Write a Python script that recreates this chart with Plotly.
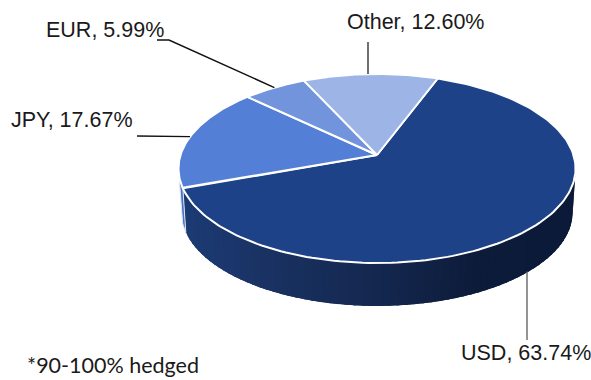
import numpy as np
import plotly.graph_objects as go

# Currency split of the portfolio
currencies = ["USD", "JPY", "EUR", "Other"]
shares = [63.74, 17.67, 5.99, 12.60]
slice_colors = ["#1E4288", "#5380D6", "#7194DC", "#9DB5E6"]
footnote = "*90-100% hedged"

# Tilted-disc projection (pixel space of the page)
CX, CY = 377.0, 155.0
RX, RY = 196.5, 92.6
PERSPECTIVE = 1 / 7
DEPTH = 44.5
BASE_SCALE = 0.985
FIRST_ANGLE = 20.5


def rim(angle_deg):
    """Project clockwise-from-top angles on to the top face of the disc."""
    a = np.radians(angle_deg)
    u, v = np.sin(a), np.cos(a)
    w = 1 / (1 + PERSPECTIVE * v)
    return CX + RX * u * w, CY - RY * v * w


def base(angle_deg):
    """Same angles on the lower, slightly smaller face of the disc."""
    x, y = rim(angle_deg)
    return CX + (x - CX) * BASE_SCALE, CY + (y - CY) * BASE_SCALE + DEPTH


def wall_colour(x):
    """Side-wall shading, darkening towards the right of the disc."""
    stops = [185, 280, 370, 470, 575]
    rgb = [np.interp(x, stops, c) for c in ([28, 24, 20, 13, 11], [58, 48, 39, 27, 26], [116, 94, 79, 58, 56])]
    return "rgb({:.0f},{:.0f},{:.0f})".format(*rgb)


fractions = np.array(shares) / sum(shares)
edges = FIRST_ANGLE + 360 * np.concatenate([[0], np.cumsum(fractions)])
mids = (edges[:-1] + edges[1:]) / 2

fig = go.Figure()


def poly(xs, ys, fill, line=None, width=0):
    fig.add_trace(go.Scatter(
        x=list(xs), y=list(ys), mode="lines", fill="toself", fillcolor=fill,
        line=dict(color=line or fill, width=width), hoverinfo="skip", showlegend=False,
    ))


# Outer wall of the disc: the front of the largest slice. Bands are painted
# from right to left, each overlapping the previous one so no seams show.
steps = np.linspace(98.0, edges[1], 70)
for a0, a1 in zip(steps[:-1], steps[1:]):
    arc = np.linspace(a0, a1, 4)
    lead = np.r_[a0 - 3 if a0 > steps[0] else a0, arc]
    xa, ya = rim(lead)
    xb, yb = base(lead[::-1])
    poly(np.r_[xa, xb, xa[0]], np.r_[ya, yb, ya[0]], wall_colour(rim(a0)[0]))

# Short visible wall of the next slice, at the far left
arc = np.linspace(edges[1], 262.0, 12)
xa, ya = rim(arc)
xb, yb = base(arc[::-1])
poly(np.r_[xa, xb, xa[0]], np.r_[ya, yb, ya[0]], "#4A72C4", "#DCE5F6", 1)

# Top face
for name, start, end, colour in zip(currencies, edges[:-1], edges[1:], slice_colors):
    arc = np.linspace(start, end, 160)
    x, y = rim(arc)
    poly(np.r_[CX, x, CX], np.r_[CY, y, CY], colour, "white", 2)

# Leader lines run from the middle of each slice's rim to its label
bends = {
    "USD": [(527, 340)],
    "JPY": [(137, 136)],
    "EUR": [(169, 40), (157, 40)],
    "Other": [(368, 42)],
}
line_colours = {"USD": "#666666", "JPY": "#111111", "EUR": "#111111", "Other": "#333333"}
for name, mid in zip(currencies, mids):
    sx, sy = base(mid) if name == "USD" else rim(mid)
    pts = [(float(sx), float(sy))] + bends[name]
    if name in ("USD", "Other"):
        pts[0] = (bends[name][0][0], pts[0][1])
    fig.add_trace(go.Scatter(
        x=[p[0] for p in pts], y=[p[1] for p in pts], mode="lines",
        line=dict(color=line_colours[name], width=1.4), hoverinfo="skip", showlegend=False,
    ))

# Labels
label_pos = {"USD": (459, 353), "JPY": (9, 120), "EUR": (44, 30), "Other": (345, 22)}
annotations = [
    dict(x=label_pos[n][0], y=label_pos[n][1], text=f"{n}, {s:.2f}%", xref="x", yref="y",
         xanchor="left", yanchor="middle", showarrow=False,
         font=dict(family="Liberation Sans", size=21.5, color="#1a1a1a"))
    for n, s in zip(currencies, shares)
]
annotations.append(dict(x=25, y=365, text=footnote, xref="x", yref="y", xanchor="left",
                        yanchor="middle", showarrow=False,
                        font=dict(family="Lato", size=21.5, color="#1a1a1a")))

fig.update_layout(
    width=591, height=380, autosize=False,
    margin=dict(l=0, r=0, t=0, b=0),
    paper_bgcolor="white", plot_bgcolor="white",
    xaxis=dict(range=[0, 591], visible=False, fixedrange=True),
    yaxis=dict(range=[380, 0], visible=False, fixedrange=True),
    annotations=annotations,
)
fig.write_html("out.html", config=dict(displayModeBar=False))
